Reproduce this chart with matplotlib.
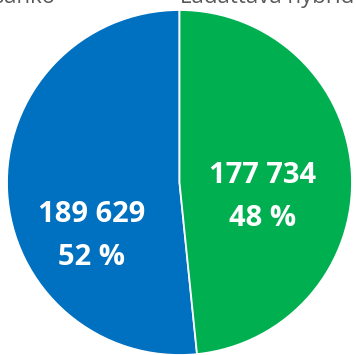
import matplotlib
matplotlib.use("Agg")
import matplotlib.pyplot as plt

categories = ["Täyssähkö", "Ladattava hybridi"]
values = [189629, 177734]
colors = ["#0070C0", "#00B050"]

W, H = 356, 355
fig = plt.figure(figsize=(W / 100, H / 100), dpi=100)
ax = fig.add_axes([0, 0, 1, 1])

cx, cy, r = 179.5, H - 182.5, 172.5
wedges, _ = ax.pie(values, colors=colors, startangle=90, counterclock=True,
                   center=(cx, cy), radius=r,
                   wedgeprops=dict(edgecolor="white", linewidth=1.3))
ax.set_xlim(0, W)
ax.set_ylim(0, H)
ax.set_aspect("equal")
ax.axis("off")

total = sum(values)
label_pos = [(92, H - 236), (263, H - 197)]
for v, (x, y) in zip(values, label_pos):
    txt = f"{v:,}".replace(",", " ") + f"\n{round(100 * v / total)} %"
    ax.text(x, y, txt, ha="center", va="center", color="white",
            fontsize=21, fontweight="bold", family="Open Sans",
            linespacing=1.6)

# legend entries sit at the very top edge
fig.text(56 / W, 1 - 3.5 / H, categories[0], ha="right", va="baseline",
         color="#595959", fontsize=16, family="Open Sans")
fig.text(180 / W, 1 - 3.5 / H, categories[1], ha="left", va="baseline",
         color="#595959", fontsize=16, family="Open Sans")

fig.savefig("out.png", dpi=100)
